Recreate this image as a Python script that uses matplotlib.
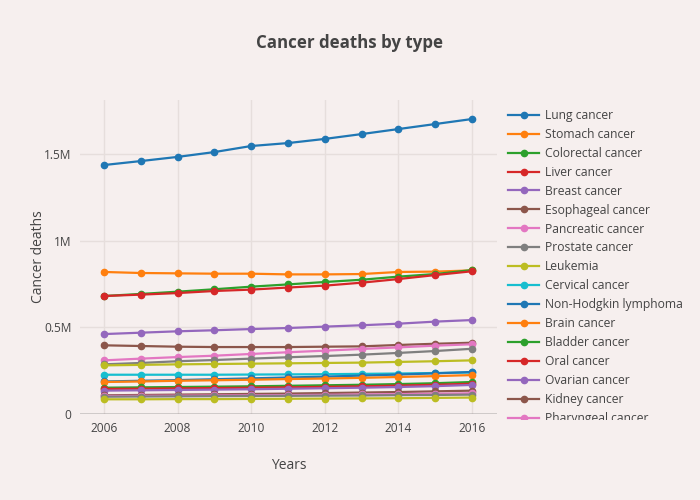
import matplotlib.pyplot as plt
from matplotlib.patches import Rectangle

years = [2006, 2007, 2008, 2009, 2010, 2011, 2012, 2013, 2014, 2015, 2016]

cancer_types = ['Lung cancer', 'Stomach cancer', 'Colorectal cancer', 'Liver cancer',
                'Breast cancer', 'Esophageal cancer', 'Pancreatic cancer', 'Prostate cancer',
                'Leukemia', 'Cervical cancer', 'Non-Hodgkin lymphoma', 'Brain cancer',
                'Bladder cancer', 'Oral cancer', 'Ovarian cancer', 'Kidney cancer',
                'Pharyngeal cancer', 'Gallbladder cancer', 'Larynx cancer']

# deaths in millions
lung = [1.439, 1.462, 1.486, 1.514, 1.549, 1.566, 1.590, 1.618, 1.647, 1.676, 1.705]
stomach = [0.821, 0.815, 0.813, 0.811, 0.811, 0.807, 0.807, 0.809, 0.821, 0.823, 0.830]
colorectal = [0.682, 0.694, 0.707, 0.721, 0.736, 0.749, 0.763, 0.776, 0.794, 0.809, 0.832]
liver = [0.682, 0.690, 0.699, 0.711, 0.719, 0.731, 0.742, 0.759, 0.780, 0.803, 0.825]
breast = [0.462, 0.470, 0.478, 0.484, 0.491, 0.497, 0.505, 0.513, 0.522, 0.534, 0.543]
esophageal = [0.397, 0.393, 0.389, 0.387, 0.387, 0.387, 0.389, 0.391, 0.399, 0.406, 0.412]
pancreatic = [0.310, 0.320, 0.329, 0.337, 0.347, 0.357, 0.366, 0.376, 0.385, 0.395, 0.403]
prostate = [0.287, 0.295, 0.305, 0.312, 0.320, 0.328, 0.335, 0.343, 0.353, 0.364, 0.377]
leukemia = [0.281, 0.284, 0.287, 0.289, 0.291, 0.293, 0.295, 0.297, 0.301, 0.305, 0.310]
cervical = [0.227, 0.227, 0.227, 0.227, 0.228, 0.229, 0.230, 0.232, 0.234, 0.237, 0.240]
nhl = [0.188, 0.192, 0.196, 0.201, 0.206, 0.211, 0.216, 0.222, 0.228, 0.235, 0.243]
brain = [0.185, 0.188, 0.192, 0.195, 0.198, 0.202, 0.205, 0.209, 0.214, 0.219, 0.225]
bladder = [0.152, 0.154, 0.156, 0.158, 0.160, 0.163, 0.166, 0.169, 0.173, 0.178, 0.185]
oral = [0.145, 0.146, 0.148, 0.150, 0.152, 0.154, 0.157, 0.160, 0.164, 0.169, 0.175]
ovarian = [0.135, 0.137, 0.139, 0.141, 0.143, 0.146, 0.149, 0.152, 0.156, 0.161, 0.168]
kidney = [0.108, 0.110, 0.112, 0.114, 0.116, 0.118, 0.121, 0.124, 0.127, 0.131, 0.135]
pharyngeal = [0.104, 0.105, 0.106, 0.107, 0.108, 0.109, 0.111, 0.113, 0.115, 0.117, 0.120]
gallbladder = [0.100, 0.101, 0.102, 0.103, 0.104, 0.105, 0.106, 0.107, 0.109, 0.110, 0.112]
larynx = [0.085, 0.085, 0.086, 0.086, 0.087, 0.088, 0.089, 0.090, 0.091, 0.093, 0.095]

series = [lung, stomach, colorectal, liver, breast, esophageal, pancreatic, prostate,
          leukemia, cervical, nhl, brain, bladder, oral, ovarian, kidney, pharyngeal,
          gallbladder, larynx]

colors = ['#1f77b4', '#ff7f0e', '#2ca02c', '#d62728', '#9467bd', '#8c564b',
          '#e377c2', '#7f7f7f', '#bcbd22', '#17becf']

bg = '#f6efee'
text_color = '#444444'
plt.rcParams['font.family'] = ['Open Sans', 'DejaVu Sans']

fig = plt.figure(figsize=(7, 5), dpi=100, facecolor=bg)
ax = fig.add_axes([80 / 700, 86 / 500, 417 / 700, 314 / 500], facecolor=bg)

for i in range(len(series)):
    ax.plot(years, [v * 1e6 for v in series[i]], color=colors[i % 10], lw=1.6,
            marker='o', markersize=4.5, label=cancer_types[i], clip_on=False)

ax.set_xlim(2005.35, 2016.68)
ax.set_ylim(0, 1.815e6)
ax.set_xticks([2006, 2008, 2010, 2012, 2014, 2016])
ax.set_yticks([0, 0.5e6, 1e6, 1.5e6])
ax.set_yticklabels(['0', '0.5M', '1M', '1.5M'])
ax.tick_params(colors=text_color, labelsize=8.6, length=0, pad=6)
ax.grid(color='#e6dedc', lw=1)
ax.set_axisbelow(True)
for s in ax.spines.values():
    s.set_visible(False)
ax.axhline(0, color='#444444', lw=1, zorder=1)

ax.set_xlabel('Years', fontsize=10, color=text_color, labelpad=16)
ax.set_ylabel('Cancer deaths', fontsize=10, color=text_color, labelpad=-1)
fig.text(350 / 700, 1 - 43 / 500, 'Cancer deaths by type', ha='center', va='center',
         fontsize=12.2, fontweight='bold', color=text_color)

leg = fig.legend(loc='upper left', bbox_to_anchor=(508 / 700, 1 - 109 / 500),
                 frameon=False, fontsize=8.7, labelspacing=0.49, handlelength=2.6,
                 handletextpad=0.45, borderaxespad=0, borderpad=0)
for t in leg.get_texts():
    t.set_color(text_color)

# plotly clips the legend box, hide what falls below it
fig.add_artist(Rectangle((500 / 700, 0), 200 / 700, 80 / 500, transform=fig.transFigure,
                         facecolor=bg, edgecolor='none', zorder=10))

plt.savefig('out.png', dpi=100, facecolor=bg)
